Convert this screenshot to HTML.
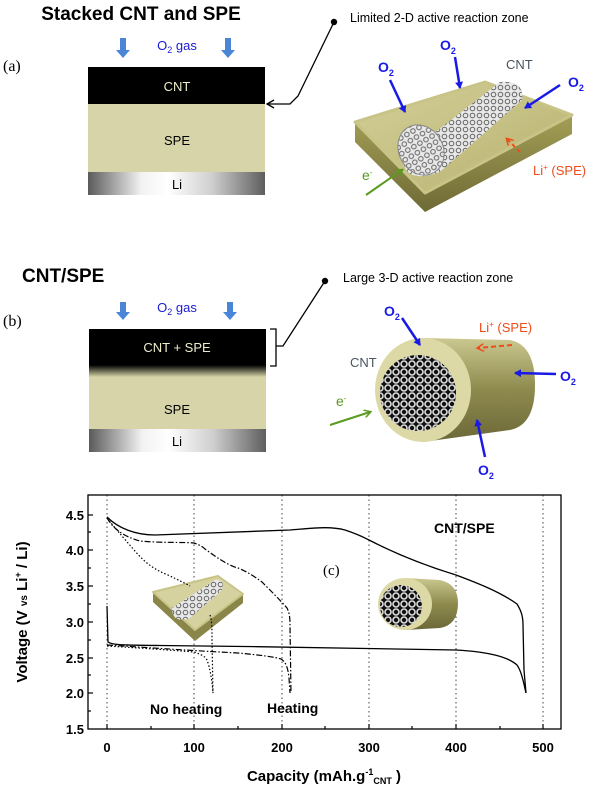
<!DOCTYPE html>
<html><head><meta charset="utf-8"><style>
html,body{margin:0;padding:0;background:#fff}
svg{display:block;font-family:"Liberation Sans",Arial,sans-serif}
</style></head><body>
<svg width="600" height="790" viewBox="0 0 600 790" xmlns="http://www.w3.org/2000/svg">
<defs>
<linearGradient id="li" x1="0" x2="1" y1="0" y2="0">
<stop offset="0" stop-color="#5a5a5a"/><stop offset="0.3" stop-color="#f2f2f2"/><stop offset="0.45" stop-color="#fff"/><stop offset="0.7" stop-color="#cfcfcf"/><stop offset="1" stop-color="#5e5e5e"/></linearGradient>
<linearGradient id="cs" x1="0" x2="0" y1="0" y2="1">
<stop offset="0" stop-color="#000"/><stop offset="0.75" stop-color="#000"/><stop offset="1" stop-color="#d6d4a8"/></linearGradient>
<linearGradient id="slabside" x1="0" x2="0" y1="0" y2="1"><stop offset="0" stop-color="#a39e55"/><stop offset="1" stop-color="#6e6a35"/></linearGradient>
<linearGradient id="slabtop" x1="0" x2="1" y1="0" y2="1"><stop offset="0" stop-color="#d3cf98"/><stop offset="1" stop-color="#b8b26f"/></linearGradient>
<linearGradient id="cyl" x1="0" x2="0" y1="0" y2="1"><stop offset="0" stop-color="#cbc890"/><stop offset="0.5" stop-color="#8e8a4e"/><stop offset="1" stop-color="#6b6838"/></linearGradient>
<pattern id="hex" width="7" height="7" patternUnits="userSpaceOnUse"><rect width="7" height="7" fill="#e8e8e8"/><circle cx="3.5" cy="3.5" r="2.3" fill="none" stroke="#666" stroke-width="1"/></pattern>
<pattern id="hex2" width="8" height="8" patternUnits="userSpaceOnUse"><rect width="8" height="8" fill="#111"/><circle cx="4" cy="4" r="3" fill="none" stroke="#ddd" stroke-width="1.6"/></pattern>
<marker id="ab" markerWidth="8" markerHeight="8" refX="6" refY="4" orient="auto" markerUnits="userSpaceOnUse"><path d="M0,0 L7,4 L0,8 z" fill="#1a1ae6"/></marker>
<marker id="ag" markerWidth="8" markerHeight="8" refX="6" refY="4" orient="auto" markerUnits="userSpaceOnUse"><path d="M0,0 L7,4 L0,8" fill="none" stroke="#5a9a20" stroke-width="1.5"/></marker>
<marker id="ao" markerWidth="8" markerHeight="8" refX="6" refY="4" orient="auto" markerUnits="userSpaceOnUse"><path d="M0,0 L7,4 L0,8" fill="none" stroke="#f04b1a" stroke-width="1.5"/></marker>
</defs>

<!-- (a) -->
<text x="141" y="20" font-size="19" font-weight="bold" text-anchor="middle">Stacked CNT and SPE</text>
<text x="3" y="71" font-size="16" font-family="Liberation Serif,serif">(a)</text>
<g fill="#4a86d8"><path d="M120,38h6v12h4l-7,8l-7,-8h4z"/><path d="M225,38h6v12h4l-7,8l-7,-8h4z"/></g>
<text x="177" y="50" font-size="13" fill="#1a1ad0" text-anchor="middle">O<tspan font-size="9" dy="3">2</tspan><tspan dy="-3"> gas</tspan></text>
<rect x="88" y="67" width="177" height="37" fill="#000"/>
<text x="177" y="91" font-size="13" fill="#eeeccc" text-anchor="middle">CNT</text>
<rect x="88" y="104" width="177" height="68" fill="#d6d4a8"/>
<text x="177" y="145" font-size="13" text-anchor="middle">SPE</text>
<rect x="88" y="172" width="177" height="23" fill="url(#li)"/>
<text x="177" y="189" font-size="13" text-anchor="middle">Li</text>
<circle cx="334" cy="22" r="3.2" fill="#000"/>
<polyline points="334,22 298,96 290,104 267,104" fill="none" stroke="#000" stroke-width="1.3"/>
<path d="M274,100 L267,104 L274,108" fill="none" stroke="#000" stroke-width="1.3"/>
<text x="350" y="22" font-size="12.5">Limited 2-D active reaction zone</text>
<!-- slab -->
<path d="M355,122 L355,142 L425,212 L572,134 L572,116 L425,193 z" fill="url(#slabside)"/>
<path d="M355,122 L485,82 L572,115 L425,193 z" fill="url(#slabtop)" stroke="#c8c387" stroke-width="3" stroke-linejoin="round"/>
<path d="M402,158 L500,82 Q525,80 522,100 L440,172 Q405,185 402,158 z" fill="url(#hex)"/>
<ellipse cx="421" cy="150" rx="22" ry="26" transform="rotate(-30 421 150)" fill="url(#hex)" stroke="#888" stroke-width="1"/>
<g stroke="#1a1ae6" stroke-width="2.5" fill="none">
<line x1="390" y1="80" x2="405" y2="112" marker-end="url(#ab)"/>
<line x1="455" y1="57" x2="460" y2="88" marker-end="url(#ab)"/>
<line x1="560" y1="85" x2="525" y2="108" marker-end="url(#ab)"/>
</g>
<text x="378" y="72" font-size="14" font-weight="bold" fill="#1a1ae6">O<tspan font-size="9" dy="4">2</tspan></text>
<text x="440" y="50" font-size="14" font-weight="bold" fill="#1a1ae6">O<tspan font-size="9" dy="4">2</tspan></text>
<text x="568" y="87" font-size="14" font-weight="bold" fill="#1a1ae6">O<tspan font-size="9" dy="4">2</tspan></text>
<text x="506" y="69" font-size="13" fill="#4a5560">CNT</text>
<line x1="520" y1="152" x2="507" y2="139" stroke="#f04b1a" stroke-width="2" stroke-dasharray="4,3" marker-end="url(#ao)"/>
<text x="533" y="175" font-size="13" fill="#f04b1a">Li<tspan font-size="8" dy="-5">+</tspan><tspan dy="5"> (SPE)</tspan></text>
<text x="362" y="180" font-size="14" fill="#5a9a20">e<tspan font-size="8" dy="-5">-</tspan></text>
<line x1="366" y1="195" x2="402" y2="170" stroke="#5a9a20" stroke-width="2" marker-end="url(#ag)"/>

<!-- (b) -->
<text x="22" y="282" font-size="19" font-weight="bold">CNT/SPE</text>
<text x="3" y="326" font-size="16" font-family="Liberation Serif,serif">(b)</text>
<g fill="#4a86d8"><path d="M120,302h6v10h4l-7,8l-7,-8h4z"/><path d="M227,302h6v10h4l-7,8l-7,-8h4z"/></g>
<text x="177" y="312" font-size="13" fill="#1a1ad0" text-anchor="middle">O<tspan font-size="9" dy="3">2</tspan><tspan dy="-3"> gas</tspan></text>
<rect x="89" y="329" width="177" height="48" fill="url(#cs)"/>
<text x="177" y="352" font-size="13" fill="#eeeccc" text-anchor="middle">CNT + SPE</text>
<rect x="89" y="377" width="177" height="52" fill="#d6d4a8"/>
<text x="177" y="414" font-size="13" text-anchor="middle">SPE</text>
<rect x="89" y="429" width="177" height="23" fill="url(#li)"/>
<text x="177" y="446" font-size="13" text-anchor="middle">Li</text>
<polyline points="270,329 276,329 276,366 270,366" fill="none" stroke="#000" stroke-width="1.3"/>
<polyline points="276,346 283,346 325,281" fill="none" stroke="#000" stroke-width="1.3"/>
<circle cx="325" cy="281" r="3.2" fill="#000"/>
<text x="343" y="282" font-size="12.5">Large 3-D active reaction zone</text>
<!-- cylinder -->
<path d="M423,338 L510,340 Q535,345 535,385 Q535,425 510,430 L423,442 z" fill="url(#cyl)"/>
<ellipse cx="423" cy="390" rx="48" ry="52" fill="#ddd9a6"/>
<circle cx="418" cy="393" r="38" fill="url(#hex2)"/>
<g stroke="#1a1ae6" stroke-width="2.5" fill="none">
<line x1="402" y1="318" x2="420" y2="345" marker-end="url(#ab)"/>
<line x1="556" y1="374" x2="515" y2="373" marker-end="url(#ab)"/>
<line x1="485" y1="457" x2="477" y2="420" marker-end="url(#ab)"/>
</g>
<text x="384" y="316" font-size="14" font-weight="bold" fill="#1a1ae6">O<tspan font-size="9" dy="4">2</tspan></text>
<text x="560" y="381" font-size="14" font-weight="bold" fill="#1a1ae6">O<tspan font-size="9" dy="4">2</tspan></text>
<text x="478" y="475" font-size="14" font-weight="bold" fill="#1a1ae6">O<tspan font-size="9" dy="4">2</tspan></text>
<line x1="512" y1="345" x2="478" y2="348" stroke="#f04b1a" stroke-width="2" stroke-dasharray="5,3" marker-end="url(#ao)"/>
<text x="479" y="332" font-size="13" fill="#f04b1a">Li<tspan font-size="8" dy="-5">+</tspan><tspan dy="5"> (SPE)</tspan></text>
<text x="350" y="367" font-size="13" fill="#4a5560">CNT</text>
<text x="336" y="406" font-size="14" fill="#5a9a20">e<tspan font-size="8" dy="-5">-</tspan></text>
<line x1="330" y1="425" x2="370" y2="412" stroke="#5a9a20" stroke-width="2" marker-end="url(#ag)"/>

<!-- chart -->
<g stroke="#444" stroke-width="1" stroke-dasharray="1.5,3">
<line x1="107" y1="495" x2="107" y2="729"/><line x1="194" y1="495" x2="194" y2="729"/><line x1="282" y1="495" x2="282" y2="729"/><line x1="369" y1="495" x2="369" y2="729"/><line x1="456" y1="495" x2="456" y2="729"/><line x1="543" y1="495" x2="543" y2="729"/>
</g>
<rect x="88" y="495" width="473" height="234" fill="none" stroke="#000" stroke-width="1.3"/>
<g stroke="#000" stroke-width="1.2">
<line x1="88" y1="515" x2="93" y2="515"/><line x1="88" y1="532" x2="91" y2="532"/><line x1="88" y1="550" x2="93" y2="550"/><line x1="88" y1="568" x2="91" y2="568"/><line x1="88" y1="586" x2="93" y2="586"/><line x1="88" y1="604" x2="91" y2="604"/><line x1="88" y1="622" x2="93" y2="622"/><line x1="88" y1="640" x2="91" y2="640"/><line x1="88" y1="658" x2="93" y2="658"/><line x1="88" y1="675" x2="91" y2="675"/><line x1="88" y1="693" x2="93" y2="693"/><line x1="88" y1="711" x2="91" y2="711"/>
<line x1="107" y1="729" x2="107" y2="724"/><line x1="151" y1="729" x2="151" y2="726"/><line x1="194" y1="729" x2="194" y2="724"/><line x1="238" y1="729" x2="238" y2="726"/><line x1="282" y1="729" x2="282" y2="724"/><line x1="325" y1="729" x2="325" y2="726"/><line x1="369" y1="729" x2="369" y2="724"/><line x1="412" y1="729" x2="412" y2="726"/><line x1="456" y1="729" x2="456" y2="724"/><line x1="500" y1="729" x2="500" y2="726"/><line x1="543" y1="729" x2="543" y2="724"/>
</g>
<g font-size="13" font-weight="bold" text-anchor="end">
<text x="84" y="520">4.5</text><text x="84" y="555">4.0</text><text x="84" y="591">3.5</text><text x="84" y="627">3.0</text><text x="84" y="663">2.5</text><text x="84" y="698">2.0</text><text x="84" y="734">1.5</text>
</g>
<g font-size="13" font-weight="bold" text-anchor="middle">
<text x="107" y="752">0</text><text x="194" y="752">100</text><text x="282" y="752">200</text><text x="369" y="752">300</text><text x="456" y="752">400</text><text x="543" y="752">500</text>
</g>
<text x="324" y="781" font-size="15" font-weight="bold" text-anchor="middle">Capacity (mAh.g<tspan font-size="9" dy="-6">-1</tspan><tspan font-size="9" dy="9">CNT</tspan><tspan dy="-3"> )</tspan></text>
<text transform="translate(27,612) rotate(-90)" font-size="15" font-weight="bold" text-anchor="middle">Voltage (V <tspan font-size="10">vs</tspan> Li<tspan font-size="9" dy="-6">+</tspan><tspan dy="6"> / Li)</tspan></text>
<text x="434" y="533" font-size="14" font-weight="bold">CNT/SPE</text>
<text x="323" y="575" font-size="15" font-family="Liberation Serif,serif">(c)</text>
<text x="150" y="714" font-size="14" font-weight="bold">No heating</text>
<text x="267" y="713" font-size="14" font-weight="bold">Heating</text>
<!-- insets -->
<path d="M153,592 L153,602 L195,641 L243,603 L243,594 L195,630 z" fill="#8a864a"/>
<path d="M153,592 L218,576 L243,594 L195,630 z" fill="#d6d2a0" stroke="#c8c387" stroke-width="2" stroke-linejoin="round"/>
<path d="M172,608 L215,580 Q225,578 222,590 L190,618 Q172,624 172,608 z" fill="url(#hex)"/>
<path d="M405,578 L440,580 Q458,584 458,603 Q458,625 440,628 L405,630 z" fill="url(#cyl)"/>
<ellipse cx="405" cy="604" rx="27" ry="26" fill="#ddd9a6"/>
<circle cx="401" cy="606" r="21" fill="url(#hex2)"/>
<g fill="none" stroke="#000" stroke-width="1.3">
<path d="M107,517 C118,528 135,535 155,535 C190,534 240,532 290,530 C315,528 330,526 345,530 C360,535 365,538 369,540 C400,556 430,567 456,575 C480,584 500,592 517,604 C522,612 523,618 523,625 L524,670 L526,693"/>
<path d="M107,606 L108,642 C112,645 120,645 160,645.5 C260,646.5 380,648.5 456,650 C490,652 508,657 517,665 C522,672 524,685 526,693"/>
</g>
<g fill="none" stroke="#000" stroke-width="1.2" stroke-dasharray="6,2,1.5,2">
<path d="M107,518 C113,528 122,536 140,541 C160,543 185,542 194,543 C200,545 203,547 205,549 C220,560 230,566 238,568 C248,572 255,577 262,582 C270,590 280,600 287,608 C290,614 290,620 290,626 L291,693"/>
<path d="M107,645 C140,647 180,650 238,653 C260,655 275,657 281,659 C286,662 288,668 289,678 L290,693"/>
</g>
<g fill="none" stroke="#000" stroke-width="1.2" stroke-dasharray="1.5,2">
<path d="M107,518 C115,528 122,536 134,550 C145,563 155,570 168,575 C178,580 185,583 190,586"/>
<path d="M210,615 C212,620 212,630 212,640 L213,693"/>
<path d="M107,646 C140,648 170,650 194,652 C200,654 205,656 207,660 C210,668 212,680 213,693"/>
</g>
</svg>
</body></html>
